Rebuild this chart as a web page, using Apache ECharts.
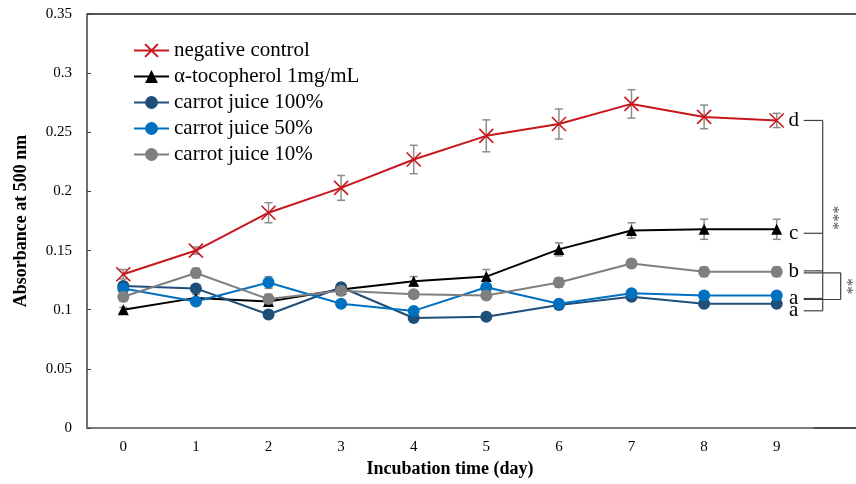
<!DOCTYPE html>
<html>
<head>
<meta charset="utf-8">
<script src="https://cdn.jsdelivr.net/npm/echarts@6/dist/echarts.min.js"></script>
<style>html,body{margin:0;padding:0;background:#fff;}#c{width:856px;height:484px;}</style>
</head>
<body>
<div id="c"></div>
<script>
// ---- data ----
const days = ['0','1','2','3','4','5','6','7','8','9'];
const yTickLabels = ['0','0.05','0.1','0.15','0.2','0.25','0.3','0.35'];
const seriesNames = ['negative control','α-tocopherol 1mg/mL','carrot juice 100%','carrot juice 50%','carrot juice 10%'];
const negCtrl    = [0.130,0.150,0.182,0.203,0.227,0.247,0.257,0.274,0.263,0.260];
const negCtrlErr = [0.004,0.003,0.0085,0.0105,0.012,0.0135,0.0127,0.012,0.010,0.006];
const toco       = [0.100,0.110,0.107,0.117,0.124,0.128,0.151,0.167,0.168,0.168];
const tocoErr    = [0.002,0.003,0.003,0.003,0.004,0.006,0.0055,0.0065,0.0085,0.0085];
const cj100      = [0.120,0.118,0.096,0.119,0.093,0.094,0.104,0.111,0.105,0.105];
const cj100Err   = [0.003,0.003,0.003,0.003,0.002,0.002,0.002,0.002,0.002,0.002];
const cj50       = [0.118,0.107,0.123,0.105,0.099,0.119,0.105,0.114,0.112,0.112];
const cj50Err    = [0.003,0.002,0.005,0.002,0.002,0.003,0.002,0.002,0.002,0.002];
const cj10       = [0.111,0.131,0.109,0.116,0.113,0.112,0.123,0.139,0.132,0.132];
const cj10Err    = [0.004,0.004,0.004,0.004,0.003,0.003,0.004,0.003,0.004,0.004];
const sigLetters = ['d','c','a','a','b'];
const sigStars   = ['***','**'];

const allVals = [negCtrl, toco, cj100, cj50, cj10];
const allErr  = [negCtrlErr, tocoErr, cj100Err, cj50Err, cj10Err];
const colors  = ['#c8161d','#000000','#1f4e79','#0070c0','#7f7f7f'];
const symbols = ['path://M0,0L10,10M10,0L0,10','triangle','circle','circle','circle'];
const symSizes = [14, 11, 12, 12, 12];

const FONT = '"Liberation Serif","Times New Roman",serif';
const chart = echarts.init(document.getElementById('c'), null, {renderer:'canvas'});

const series = [];
// error bars
allVals.forEach((vals, si) => {
  series.push({
    type: 'custom',
    z: 1,
    silent: true,
    renderItem: function (params, api) {
      const x = api.value(0), y = api.value(1), e = api.value(2);
      const hi = api.coord([x, y + e]);
      const lo = api.coord([x, y - e]);
      const w = 4;
      const st = {stroke: '#8c8c8c', lineWidth: 1.5};
      return {type: 'group', children: [
        {type: 'line', shape: {x1: hi[0], y1: hi[1], x2: lo[0], y2: lo[1]}, style: st},
        {type: 'line', shape: {x1: hi[0]-w, y1: hi[1], x2: hi[0]+w, y2: hi[1]}, style: st},
        {type: 'line', shape: {x1: lo[0]-w, y1: lo[1], x2: lo[0]+w, y2: lo[1]}, style: st}
      ]};
    },
    data: vals.map((v, i) => [i, v, allErr[si][i]])
  });
});
allVals.forEach((vals, si) => {
  series.push({
    name: seriesNames[si],
    type: 'line',
    z: 2 + si,
    data: vals,
    color: colors[si],
    symbol: symbols[si],
    symbolSize: symSizes[si],
    showAllSymbol: true,
    lineStyle: {color: colors[si], width: 2},
    itemStyle: si === 0 ? {color: 'rgba(0,0,0,0)', borderColor: colors[si], borderWidth: 1.6}
                        : {color: colors[si], borderColor: colors[si], borderWidth: 0},
    emphasis: {disabled: true},
    animation: false
  });
});

const option = {
  animation: false,
  backgroundColor: '#ffffff',
  grid: {left: 87, right: 43, top: 14, bottom: 56},
  legend: {
    orient: 'vertical', left: 128, top: 35,
    itemWidth: 35, itemHeight: 16, itemGap: 5,
    textStyle: {fontFamily: FONT, fontSize: 21, color: '#000', lineHeight: 21},
    data: seriesNames
  },
  xAxis: {
    type: 'category', data: days, boundaryGap: true,
    name: 'Incubation time (day)', nameLocation: 'middle', nameGap: 31,
    nameTextStyle: {fontFamily: FONT, fontSize: 18, fontWeight: 'bold', color: '#000'},
    axisLine: {lineStyle: {color: '#7a7a7a', width: 2}},
    axisTick: {show: false},
    axisLabel: {fontFamily: FONT, fontSize: 15, color: '#000', margin: 12},
    splitLine: {show: false}
  },
  yAxis: {
    type: 'value', min: 0, max: 0.35, interval: 0.05,
    name: 'Absorbance at 500 nm', nameLocation: 'middle', nameGap: 57,
    nameTextStyle: {fontFamily: FONT, fontSize: 18, fontWeight: 'bold', color: '#000'},
    axisLine: {show: true, lineStyle: {color: '#404040', width: 1.5}},
    axisTick: {show: true, inside: true, length: 4, lineStyle: {color: '#404040'}},
    axisLabel: {fontFamily: FONT, fontSize: 15, color: '#000', margin: 15,
      formatter: function (v) { return yTickLabels[Math.round(v / 0.05)]; }},
    splitLine: {show: false}
  },
  series: series
};
chart.setOption(option);

// annotations computed from the axes
function px(si) { return chart.convertToPixel({xAxisIndex: 0, yAxisIndex: 0}, [days.length - 1, allVals[si][days.length - 1]]); }
const letterOffsets = [0, 4, 7, 3, 0];
const letterPos = allVals.map((v, si) => { const p = px(si); return [p[0] + 17, p[1] + letterOffsets[si]]; });
const g = [];
const lineSt = {stroke: '#404040', lineWidth: 1.2};
letterPos.forEach((p, si) => {
  g.push({type: 'text', x: p[0], y: p[1], style: {text: sigLetters[si], font: '21px ' + FONT, fill: '#000', textAlign: 'center', textVerticalAlign: 'middle'}});
});
const x0 = letterPos[0][0] + 10, xb = x0 + 19, xs = x0 + 37;
// tick lines to big bracket
letterPos.forEach((p, si) => {
  const y = p[1] + (si === 4 ? -1 : 0);
  g.push({type: 'line', shape: {x1: x0, y1: y, x2: xb, y2: y}, style: lineSt});
});
g.push({type: 'line', shape: {x1: xb, y1: letterPos[0][1], x2: xb, y2: letterPos[2][1]}, style: lineSt});
// small bracket b - a
const yb = letterPos[4][1] + 1, ya = letterPos[3][1] + 1;
g.push({type: 'line', shape: {x1: x0, y1: yb, x2: xs, y2: yb}, style: lineSt});
g.push({type: 'line', shape: {x1: x0, y1: ya, x2: xs, y2: ya}, style: lineSt});
g.push({type: 'line', shape: {x1: xs, y1: yb, x2: xs, y2: ya}, style: lineSt});
// stars
g.push({type: 'text', x: xb + 10, y: (letterPos[0][1] + letterPos[1][1]) / 2 + 41, rotation: -Math.PI / 2,
  style: {text: sigStars[0], font: '16px ' + FONT, fill: '#555', textAlign: 'center', textVerticalAlign: 'middle'}});
g.push({type: 'text', x: xs + 6, y: (yb + ya) / 2, rotation: -Math.PI / 2,
  style: {text: sigStars[1], font: '16px ' + FONT, fill: '#555', textAlign: 'center', textVerticalAlign: 'middle'}});
// frame: top line and bottom extension
const tl = chart.convertToPixel({xAxisIndex: 0, yAxisIndex: 0}, [0, 0.35]);
const br = chart.convertToPixel({xAxisIndex: 0, yAxisIndex: 0}, [days.length - 1, 0]);
const gridLeft = 87, W = 856;
g.push({type: 'line', shape: {x1: gridLeft, y1: tl[1], x2: W, y2: tl[1]}, style: {stroke: '#555', lineWidth: 2}});
g.push({type: 'line', shape: {x1: br[0] + 22, y1: br[1], x2: W, y2: br[1]}, style: {stroke: '#111', lineWidth: 1.5}});
chart.setOption({graphic: g});
</script>
</body>
</html>
